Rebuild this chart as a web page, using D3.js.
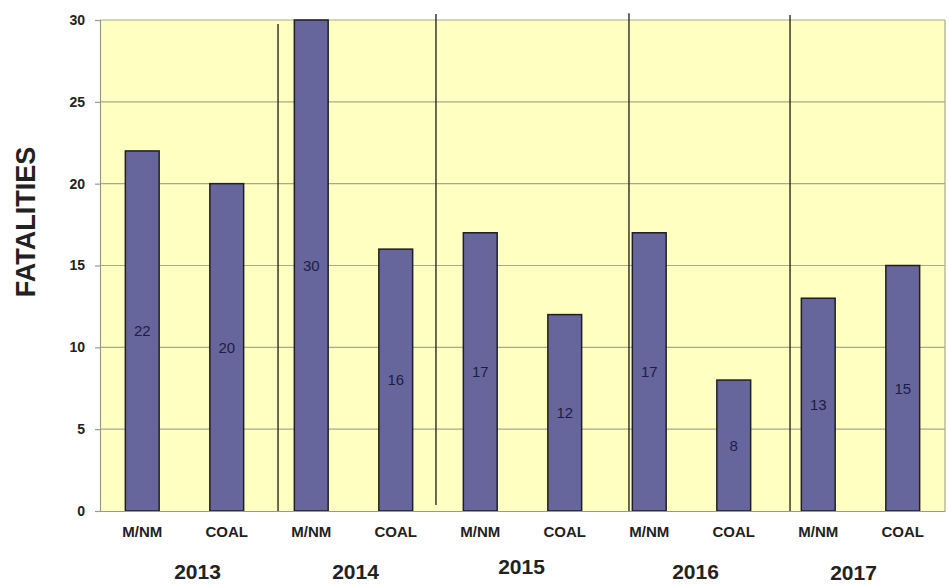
<!DOCTYPE html>
<html>
<head>
<meta charset="utf-8">
<script src="https://cdn.jsdelivr.net/npm/d3@7"></script>
<style>
  body { margin: 0; background: #fff; }
  text { font-family: "Liberation Sans", Arial, sans-serif; }
</style>
</head>
<body>
<div id="chart"></div>
<script>
// data
const years = ["2013", "2014", "2015", "2016", "2017"];
const sectors = ["M/NM", "COAL"];
const mnmFatalities = [22, 30, 17, 17, 13];
const coalFatalities = [20, 16, 12, 8, 15];
const yTicks = [0, 5, 10, 15, 20, 25, 30];

// hand-drawn year dividers: position in bar slots, top and bottom in fatalities
const dividerSlot = [2.107, 3.976, 6.26, 8.166];
const dividerTop = [29.75, 30.36, 30.42, 30.3];
const dividerBottom = [0, 0.37, 0, 0];

const svgWidth = 950;
const svgHeight = 584;
const margin = { top: 20, right: 5, bottom: 73, left: 100 };
const width = svgWidth - margin.left - margin.right;
const height = svgHeight - margin.top - margin.bottom;

// one row per bar
const bars = [];
years.forEach((yr, i) => {
  bars.push({ key: yr + "-" + sectors[0], year: yr, sector: sectors[0], value: mnmFatalities[i] });
  bars.push({ key: yr + "-" + sectors[1], year: yr, sector: sectors[1], value: coalFatalities[i] });
});

const svg = d3.select("#chart").append("svg")
  .attr("width", svgWidth)
  .attr("height", svgHeight);

const chartGroup = svg.append("g")
  .attr("transform", `translate(${margin.left}, ${margin.top})`);

const x = d3.scaleBand()
  .domain(bars.map(d => d.key))
  .range([0, width])
  .paddingInner(0.6)
  .paddingOuter(0.3);

const slot = d3.scaleLinear()
  .domain([0, bars.length])
  .range([0, width]);

const y = d3.scaleLinear()
  .domain([0, 30])
  .range([height, 0]);

// plot background
chartGroup.append("rect")
  .attr("width", width)
  .attr("height", height)
  .attr("fill", "#ffffc2");

// gridlines
chartGroup.append("g")
  .selectAll("line")
  .data(yTicks.filter(t => t > 0))
  .enter()
  .append("line")
  .attr("x1", 0)
  .attr("x2", width)
  .attr("y1", d => y(d))
  .attr("y2", d => y(d))
  .attr("stroke", "#a9a98c")
  .attr("stroke-width", 1.2);

// right border
chartGroup.append("line")
  .attr("x1", width).attr("x2", width)
  .attr("y1", 0).attr("y2", height)
  .attr("stroke", "#a9a98c")
  .attr("stroke-width", 1.2);

// bars
chartGroup.selectAll(".bar")
  .data(bars)
  .enter()
  .append("rect")
  .attr("class", "bar")
  .attr("x", d => x(d.key))
  .attr("y", d => y(d.value))
  .attr("width", x.bandwidth())
  .attr("height", d => height - y(d.value))
  .attr("fill", "#66669c")
  .attr("stroke", "#1e1e24")
  .attr("stroke-width", 1.5);

// value labels in the middle of each bar
chartGroup.selectAll(".barLabel")
  .data(bars)
  .enter()
  .append("text")
  .attr("class", "barLabel")
  .attr("x", d => x(d.key) + x.bandwidth() / 2)
  .attr("y", d => y(d.value / 2))
  .attr("dy", "0.36em")
  .attr("text-anchor", "middle")
  .attr("font-size", "15px")
  .attr("fill", "#1c1c48")
  .text(d => d.value);

// year dividers
chartGroup.selectAll(".divider")
  .data(dividerSlot)
  .enter()
  .append("line")
  .attr("class", "divider")
  .attr("x1", d => slot(d))
  .attr("x2", d => slot(d))
  .attr("y1", (d, i) => y(dividerTop[i]))
  .attr("y2", (d, i) => y(dividerBottom[i]))
  .attr("stroke", "#2a2a22")
  .attr("stroke-width", 1.4);

// y axis
const leftAxis = d3.axisLeft(y)
  .tickValues(yTicks)
  .tickSize(5)
  .tickPadding(10);

const yAxis = chartGroup.append("g").call(leftAxis);
yAxis.select(".domain").attr("stroke", "#9a9a88").attr("stroke-width", 1.2);
yAxis.selectAll(".tick line").attr("stroke", "#9a9a88").attr("stroke-width", 1.2);
yAxis.selectAll("text")
  .attr("font-size", "14px")
  .attr("font-weight", "bold")
  .attr("fill", "#222");

// x axis (sector labels)
const bottomAxis = d3.axisBottom(x)
  .tickSize(0)
  .tickPadding(15)
  .tickFormat(k => bars.find(b => b.key === k).sector);

const xAxis = chartGroup.append("g")
  .attr("transform", `translate(0, ${height})`)
  .call(bottomAxis);
xAxis.select(".domain").attr("stroke", "#9a9a88").attr("stroke-width", 1.2);
xAxis.selectAll("text")
  .attr("font-size", "15px")
  .attr("font-weight", "bold")
  .attr("fill", "#222");

// year labels under each pair of bars
const yearNudge = [13, 2, -1, 4, -7];
const yearDrop = [0, 0, -5, 0, 1];
chartGroup.selectAll(".yearLabel")
  .data(years)
  .enter()
  .append("text")
  .attr("class", "yearLabel")
  .attr("x", (d, i) => slot(i * 2 + 1) + yearNudge[i])
  .attr("y", (d, i) => height + 68 + yearDrop[i])
  .attr("text-anchor", "middle")
  .attr("font-size", "21px")
  .attr("font-weight", "bold")
  .attr("fill", "#222")
  .text(d => d);

// y axis title
svg.append("text")
  .attr("transform", "translate(35, 222) rotate(-90)")
  .attr("text-anchor", "middle")
  .attr("font-size", "27px")
  .attr("font-weight", "bold")
  .attr("fill", "#222")
  .text("FATALITIES");
</script>
</body>
</html>
